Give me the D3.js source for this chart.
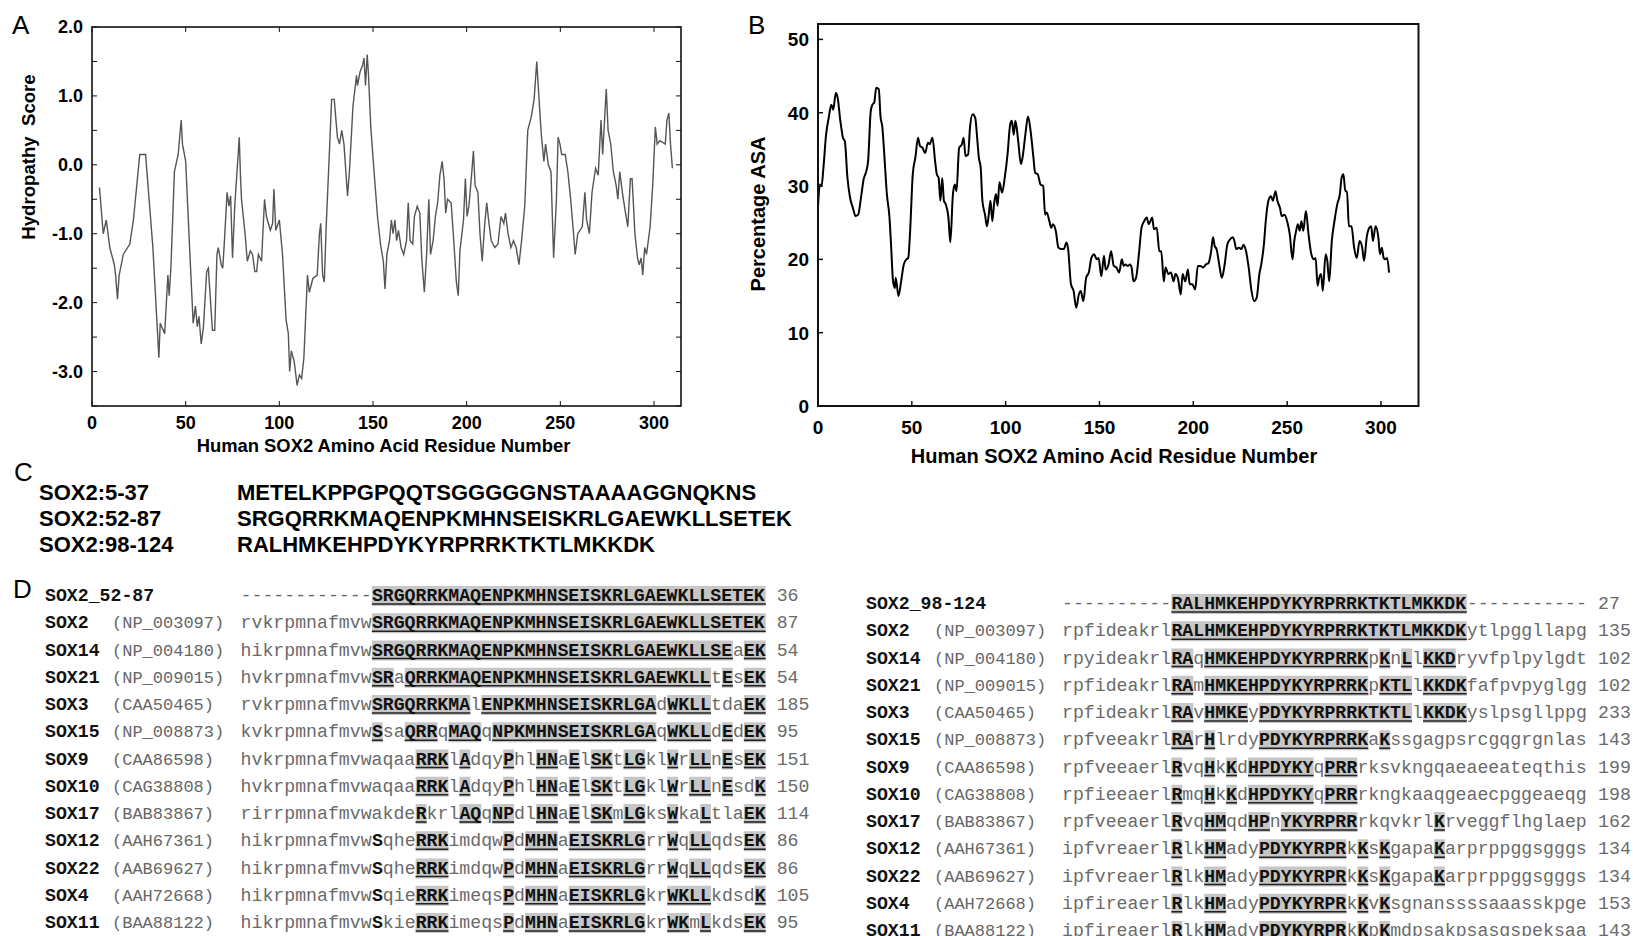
<!DOCTYPE html>
<html>
<head>
<meta charset="utf-8">
<script src="https://cdn.jsdelivr.net/npm/d3@7"></script>
<style>
  body { margin: 0; background: #fff; }
  svg { display: block; }
</style>
</head>
<body>
<svg id="fig" width="1633" height="936"></svg>
<script>
// ---- dados ----
// A: hidropatia [resíduo, escore]
const hydropathy = [
  [4,-0.33],[6,-1.0],[7.6,-0.8],[9.5,-1.2],[11.9,-1.45],[12.6,-1.6],[13.6,-1.95],[14.5,-1.6],[16.7,-1.3],
  [20.2,-1.15],[22.1,-0.8],[25.5,0.15],[28.6,0.15],[32.5,-1.2],[35.7,-2.8],[36.4,-2.3],[38.8,-2.45],
  [40.5,-1.6],[41.2,-1.9],[42.1,-1.5],[44,-0.1],[46,0.15],[47.6,0.65],[48.3,0.3],[50,0.05],[52.1,-1.2],
  [54,-2.3],[55.2,-2.05],[56.2,-2.35],[57.1,-2.2],[58.3,-2.6],[59.5,-2.35],[61.2,-1.55],[62.1,-1.5],
  [64.3,-2.4],[65.5,-2.4],[66.7,-1.3],[67.4,-1.2],[69,-1.45],[69.8,-1.5],[70.7,-1.1],[72.1,-0.4],
  [73.1,-0.6],[74,-0.45],[75,-1.35],[76.2,-0.6],[78.6,0.4],[79.3,-0.2],[79.8,-0.5],[81.7,-1.0],
  [82.9,-1.4],[84.5,-1.25],[85.7,-1.3],[86.9,-1.55],[87.9,-1.55],[88.8,-1.3],[90.5,-1.4],[91.2,-1.0],
  [92.1,-0.5],[93.1,-0.75],[95.2,-0.95],[96.4,-0.85],[97.1,-0.35],[98.1,-0.95],[100,-0.8],[101.7,-1.3],
  [103.6,-2.25],[104.8,-2.45],[105.5,-3.0],[106.4,-2.7],[107.9,-2.85],[109.5,-3.2],[110.7,-3.05],
  [111.9,-3.1],[113.1,-2.8],[115,-1.6],[116,-1.85],[117.9,-1.65],[120.2,-1.6],[121.4,-1.0],[122.1,-0.85],
  [123.1,-1.6],[124,-1.7],[125,-0.9],[126.9,0.3],[127.9,0.95],[129.3,0.95],[131,0.4],[132.1,0.3],
  [133.3,0.5],[134.5,0.3],[136.4,-0.45],[137.4,-0.1],[139.3,0.85],[141.2,1.3],[141.7,1.15],[143.1,1.35],
  [144.5,1.45],[145.2,1.55],[146,1.15],[146.9,1.6],[147.6,1.3],[148.8,0.55],[150.7,-0.15],[152.4,-0.75],
  [154,-1.15],[155.5,-1.4],[156.4,-1.8],[157.4,-1.3],[158.8,-1.1],[159.8,-0.8],[160.7,-1.0],[161.7,-0.8],
  [162.6,-1.1],[163.6,-0.95],[165,-1.2],[166.4,-1.3],[167.9,-1.1],[168.8,-0.55],[169.8,-1.1],[171.2,-1.15],
  [172.1,-0.75],[173.6,-0.6],[175,-0.7],[176,-1.35],[177.4,-1.85],[178.6,-1.3],[179.8,-0.5],[180.7,-1.3],
  [182.1,-1.1],[183.3,-0.75],[184.5,-0.55],[185.7,-0.15],[186.9,0.05],[187.9,-0.2],[188.8,-0.7],
  [189.8,-0.5],[191.7,-0.55],[193.1,-1.1],[194.5,-1.7],[195.5,-1.9],[196.4,-1.25],[198.3,-0.8],
  [199.3,-0.2],[200.2,-0.75],[201.2,-0.6],[202.6,-0.15],[203.6,0.2],[204.5,-0.3],[206,-0.4],[207.1,-1.0],
  [208.3,-1.4],[209.5,-0.9],[210.7,-0.55],[211.9,-0.85],[213.1,-1.1],[215,-1.2],[216.7,-1.15],
  [218.3,-0.75],[219.8,-0.85],[220.7,-0.7],[222.1,-1.0],[223.6,-1.2],[225,-1.1],[226.4,-1.2],
  [227.9,-1.45],[229.3,-1.1],[231,-0.6],[232.6,0.5],[234.5,0.7],[236,0.95],[237.4,1.5],[238.3,1.1],
  [239.8,0.45],[241.2,0.05],[242.1,0.3],[243.6,0.0],[245,-0.1],[246.4,-1.35],[247.9,-0.5],[248.8,0.4],
  [249.8,0.3],[250.7,0.15],[252.6,0.15],[254,-0.1],[255.5,-0.5],[256.9,-0.95],[257.9,-1.3],[259.3,-1.0],
  [261.7,-0.9],[263.1,-0.4],[264,-0.8],[265.5,-1.0],[266.9,-0.4],[268.8,-0.05],[270.2,-0.15],[271.7,0.65],
  [272.6,0.15],[273.6,0.65],[274.5,1.1],[275.5,0.5],[276.9,0.3],[278.3,-0.1],[279.8,-0.3],[280.7,-0.5],
  [281.7,-0.1],[283.1,-0.4],[284.5,-0.65],[286,-0.9],[287.4,-0.2],[288.3,-0.2],[289.8,-1.0],[291.2,-1.35],
  [292.1,-1.45],[293.1,-1.35],[294,-1.6],[295,-1.2],[296,-1.3],[297.9,-0.9],[299.3,-0.3],[300.7,0.55],
  [301.7,0.3],[303.1,0.35],[306,0.3],[306.9,0.65],[307.9,0.75],[308.8,0.3],[309.8,-0.05]
];

// B: percentual ASA [resíduo, %]
const asa = [
  [0,27.1],[1,30.2],[1.9,30.0],[2.9,32.5],[4.3,37.0],[5.7,39.3],[7.1,41.1],[8.1,40.4],[9.5,42.7],[10.5,42.0],
  [11.9,38.9],[13.3,36.6],[14.3,36.1],[15.7,31.1],[17.1,28.4],[18.6,27.0],[20,25.9],[21.4,26.1],[22.9,28.4],
  [24.3,30.9],[25.7,32.0],[26.7,33.4],[28.1,40.2],[29,41.1],[30,41.4],[31,43.4],[32.4,43.2],[33.3,39.5],
  [34.3,38.0],[35.2,34.8],[36.7,28.9],[38.1,25.7],[39,21.6],[40,17.0],[41,16.1],[41.4,17.5],[42.9,15.0],
  [44.3,17.0],[45.7,19.3],[47.1,20.0],[48.1,20.2],[49,23.4],[50.5,31.6],[51.9,33.9],[53.3,36.6],[54.3,35.5],
  [55.7,35.2],[57.1,34.5],[58.6,35.9],[59.5,35.7],[61,36.6],[62.4,33.4],[63.3,31.6],[64.3,31.1],[65.2,28.0],
  [66.2,31.1],[67.1,28.0],[68.1,27.5],[69.5,25.7],[70.5,22.3],[71.9,28.9],[72.9,30.2],[73.8,29.3],[75.2,35.2],
  [76.7,35.7],[77.6,36.6],[78.6,34.1],[80,34.3],[81,38.0],[82.4,39.8],[83.8,39.3],[84.8,36.6],[85.7,33.9],
  [86.7,32.5],[87.6,28.0],[89,26.1],[90,24.5],[91,26.1],[91.9,28.0],[92.9,25.2],[93.8,27.5],[94.8,28.9],
  [95.7,27.3],[96.7,30.5],[98.1,29.1],[99.5,31.1],[101,34.3],[102.4,38.4],[103.3,38.9],[104.3,37.0],
  [105.2,38.9],[106.7,36.1],[108.1,33.0],[109,33.9],[110.5,37.0],[111.9,39.5],[113.3,37.5],[114.8,33.9],
  [115.7,31.8],[117.1,31.6],[118.6,30.2],[120,30.0],[121,26.1],[121.9,26.4],[123.3,25.2],[124.3,24.3],
  [125.2,24.8],[126.7,23.9],[128.1,21.6],[129.5,21.4],[131,21.4],[132.4,22.3],[133.3,21.4],[134.8,16.6],
  [136.2,15.7],[137.6,13.4],[139,15.2],[140,15.7],[141.4,14.3],[142.9,17.5],[144.3,18.2],[145.7,20.2],
  [147.1,20.7],[148.6,20.0],[149.5,20.2],[151,17.7],[152.4,20.5],[153.3,18.6],[154.8,19.3],[156.2,21.1],
  [157.6,19.1],[159,18.9],[160.5,18.2],[161.9,20.0],[162.9,19.1],[163.8,19.3],[165.2,19.1],[166.2,19.3],
  [167.1,18.9],[168.1,17.0],[169.5,17.5],[171,20.7],[172.4,24.3],[173.8,25.2],[175.2,25.7],[176.2,24.8],
  [177.1,25.2],[178.1,25.7],[179,24.1],[180.5,24.3],[181.9,21.1],[182.9,21.1],[184.3,17.0],[185.2,18.9],
  [186.7,18.0],[188.1,18.2],[189.5,17.0],[190.5,18.0],[191.9,17.3],[193.3,15.2],[194.3,18.0],[195.7,17.0],
  [197.1,18.6],[198.1,16.6],[199.5,16.6],[201,15.9],[202.4,19.1],[203.8,19.1],[205.2,18.9],[206.7,19.3],
  [208.1,19.5],[209.5,21.1],[210.5,23.0],[211.4,21.8],[212.4,21.4],[213.8,19.3],[215.2,17.5],[216.7,19.3],
  [218.1,22.0],[219.5,22.7],[221,23.0],[221.9,22.5],[222.9,21.4],[224.3,21.6],[225.7,21.4],[226.7,22.0],
  [228.1,21.1],[229.5,18.9],[231,15.7],[232.4,14.3],[233.8,14.8],[235.2,18.0],[236.2,19.3],[237.6,22.0],
  [238.6,25.2],[240,28.0],[241.4,28.6],[242.4,28.0],[243.8,29.3],[244.8,28.0],[246.2,27.0],[247.1,25.9],
  [248.6,26.1],[250,25.2],[251.4,23.4],[252.9,20.0],[253.8,22.5],[254.8,23.9],[255.7,24.8],[256.7,23.9],
  [257.6,25.2],[258.6,23.9],[260,26.6],[261.4,23.4],[262.9,20.7],[264.3,20.0],[265.2,20.2],[266.2,16.4],
  [267.1,17.5],[268.1,18.0],[269,15.7],[270.5,20.7],[271.4,19.8],[272.4,17.0],[273.8,22.5],[275.2,25.2],
  [276.7,27.5],[278.1,28.9],[279,31.1],[280,31.6],[281,29.3],[281.9,29.3],[282.9,24.5],[284.3,24.5],
  [285.7,21.6],[287.1,20.2],[288.6,22.5],[290,21.6],[291,19.8],[292.4,23.0],[293.8,24.3],[294.8,24.5],
  [295.7,22.5],[297.1,24.5],[298.6,23.0],[299.5,20.7],[300.5,21.6],[301.4,20.2],[302.4,20.0],[303.3,20.2],
  [304.3,18.2]
];

const ticksResiduo = [0, 50, 100, 150, 200, 250, 300];
const ticksHidro = [-3, -2, -1, 0, 1, 2];
const ticksHidroMenor = [-3.5, -3, -2.5, -2, -1.5, -1, -0.5, 0, 0.5, 1, 1.5, 2];
const ticksAsa = [0, 10, 20, 30, 40, 50];

// C: peptídeos
const peptideoNomes = ["SOX2:5-37", "SOX2:52-87", "SOX2:98-124"];
const peptideoSeqs = [
  "METELKPPGPQQTSGGGGGNSTAAAAGGNQKNS",
  "SRGQRRKMAQENPKMHNSEISKRLGAEWKLLSETEK",
  "RALHMKEHPDYKYRPRRKTKTLMKKDK"
];

// D: alinhamentos (maiúsculas = conservado/destacado, '*' = negrito sem destaque)
const alinEsqNomes = ["SOX2_52-87","SOX2","SOX14","SOX21","SOX3","SOX15","SOX9","SOX10","SOX17","SOX12","SOX22","SOX4","SOX11"];
const alinEsqAcc = ["","(NP_003097)","(NP_004180)","(NP_009015)","(CAA50465)","(NP_008873)","(CAA86598)","(CAG38808)","(BAB83867)","(AAH67361)","(AAB69627)","(AAH72668)","(BAA88122)"];
const alinEsqSeqs = [
  "------------SRGQRRKMAQENPKMHNSEISKRLGAEWKLLSETEK",
  "rvkrpmnafmvwSRGQRRKMAQENPKMHNSEISKRLGAEWKLLSETEK",
  "hikrpmnafmvwSRGQRRKMAQENPKMHNSEISKRLGAEWKLLSEaEK",
  "hvkrpmnafmvwSRaQRRKMAQENPKMHNSEISKRLGAEWKLLtEsEK",
  "rvkrpmnafmvwSRGQRRKMAlENPKMHNSEISKRLGAdWKLLtdaEK",
  "kvkrpmnafmvwSsaQRRqMAQqNPKMHNSEISKRLGAqWKLLdEdEK",
  "hvkrpmnafmvwaqaaRRKlAdqyPhlHNaElSKtLGklWrLLnEsEK",
  "hvkrpmnafmvwaqaaRRKlAdqyPhlHNaElSKtLGklWrLLnEsdK",
  "rirrpmnafmvwakdeRkrlAQqNPdlHNaElSKmLGksWkaLtlaEK",
  "hikrpmnafmvw*SqheRRKimdqwPdMHNaEISKRLGrrWqLLqdsEK",
  "hikrpmnafmvw*SqheRRKimdqwPdMHNaEISKRLGrrWqLLqdsEK",
  "hikrpmnafmvw*SqieRRKimeqsPdMHNaEISKRLGkrWKLLkdsdK",
  "hikrpmnafmvw*SkieRRKimeqsPdMHNaEISKRLGkrWKmLkdsEK"
];
const alinEsqFim = [36, 87, 54, 54, 185, 95, 151, 150, 114, 86, 86, 105, 95];

const alinDirNomes = ["SOX2_98-124","SOX2","SOX14","SOX21","SOX3","SOX15","SOX9","SOX10","SOX17","SOX12","SOX22","SOX4","SOX11"];
const alinDirAcc = alinEsqAcc;
const alinDirSeqs = [
  "----------RALHMKEHPDYKYRPRRKTKTLMKKDK-----------",
  "rpfideakrlRALHMKEHPDYKYRPRRKTKTLMKKDKytlpggllapg",
  "rpyideakrlRAqHMKEHPDYKYRPRRKpKnLlKKDryvfplpylgdt",
  "rpfideakrlRAmHMKEHPDYKYRPRRKpKTLlKKDKfafpvpyglgg",
  "rpfideakrlRAvHMKEyPDYKYRPRRKTKTLlKKDKyslpsgllppg",
  "rpfveeakrlRArHlrdyPDYKYRPRRKaKssgagpsrcgqgrgnlas",
  "rpfveeaerlRvqHkKdHPDYKYqPRRrksvkngqaeaeeateqthis",
  "rpfieeaerlRmqHkKdHPDYKYqPRRrkngkaaqgeaecpggeaeqg",
  "rpfveeaerlRvqHMqdHPnYKYRPRRrkqvkrlKrveggflhglaep",
  "ipfvreaerlRlkHMadyPDYKYRPRkKsKgapaKarprppggsgggs",
  "ipfvreaerlRlkHMadyPDYKYRPRkKsKgapaKarprppggsgggs",
  "ipfireaerlRlkHMadyPDYKYRPRkKvKsgnanssssaaasskpge",
  "ipfireaerlRlkHMadyPDYKYRPRkKpKmdpsakpsasgspeksaa"
];
const alinDirFim = [27, 135, 102, 102, 233, 143, 199, 198, 162, 134, 134, 153, 143];

// ---- desenho ----
var svg = d3.select("#fig");
var sans = "'Liberation Sans', Arial, sans-serif";
var mono = "'Liberation Mono', 'Courier New', monospace";

function letra(txt, x, y) {
    svg.append("text").attr("x", x).attr("y", y)
        .style("font-family", sans).style("font-size", "26px").text(txt);
}

// painel A
function desenharHidro() {
    var L = 92, R = 681, T = 27, B = 406;
    var x = d3.scaleLinear().domain([0, 314.4]).range([L, R]);
    var y = d3.scaleLinear().domain([-3.5, 2.0]).range([B, T]);
    var g = svg.append("g");

    g.append("path")
        .datum(hydropathy)
        .attr("fill", "none")
        .attr("stroke", "#555")
        .attr("stroke-width", 1.4)
        .attr("d", d3.line().x(d => x(d[0])).y(d => y(d[1])));

    g.append("rect").attr("x", L).attr("y", T).attr("width", R - L).attr("height", B - T)
        .attr("fill", "none").attr("stroke", "#111").attr("stroke-width", 1.6);

    // ticks internos nos quatro lados
    ticksHidroMenor.forEach(function (v) {
        g.append("line").attr("x1", L).attr("x2", L + 5).attr("y1", y(v)).attr("y2", y(v)).attr("stroke", "#111");
        g.append("line").attr("x1", R).attr("x2", R - 5).attr("y1", y(v)).attr("y2", y(v)).attr("stroke", "#111");
    });
    ticksResiduo.forEach(function (v) {
        g.append("line").attr("x1", x(v)).attr("x2", x(v)).attr("y1", B).attr("y2", B - 5).attr("stroke", "#111");
        g.append("line").attr("x1", x(v)).attr("x2", x(v)).attr("y1", T).attr("y2", T + 5).attr("stroke", "#111");
    });

    // hífen comum no sinal, como no original
    g.selectAll("text.ty").data(ticksHidro).enter().append("text")
        .attr("x", L - 9).attr("y", d => y(d) + 6)
        .attr("text-anchor", "end")
        .style("font-family", sans).style("font-weight", "bold").style("font-size", "18px")
        .text(d => d.toFixed(1));

    g.selectAll("text.tx").data(ticksResiduo).enter().append("text")
        .attr("x", d => x(d)).attr("y", B + 23)
        .attr("text-anchor", "middle")
        .style("font-family", sans).style("font-weight", "bold").style("font-size", "18px")
        .text(d => d);

    g.append("text").attr("x", (L + R) / 2 - 3).attr("y", 452).attr("text-anchor", "middle")
        .style("font-family", sans).style("font-weight", "bold").style("font-size", "18.4px")
        .text("Human SOX2 Amino Acid Residue Number");

    g.append("text")
        .attr("transform", "translate(35,157) rotate(-90)")
        .attr("text-anchor", "middle")
        .attr("xml:space", "preserve")
        .style("white-space", "pre")
        .style("font-family", sans).style("font-weight", "bold").style("font-size", "18.6px")
        .text("Hydropathy  Score");
}

// painel B
function desenharAsa() {
    var L = 818, R = 1418.5, T = 24, B = 406;
    var x = d3.scaleLinear().domain([0, 320]).range([L, R]);
    var y = d3.scaleLinear().domain([0, 52.1]).range([B, T]);
    var g = svg.append("g");

    g.append("path")
        .datum(asa)
        .attr("fill", "none")
        .attr("stroke", "#000")
        .attr("stroke-width", 2)
        .attr("d", d3.line().curve(d3.curveMonotoneX).x(d => x(d[0])).y(d => y(d[1])));

    g.append("rect").attr("x", L).attr("y", T).attr("width", R - L).attr("height", B - T)
        .attr("fill", "none").attr("stroke", "#111").attr("stroke-width", 2);

    ticksAsa.forEach(function (v) {
        g.append("line").attr("x1", L).attr("x2", L + 5).attr("y1", y(v)).attr("y2", y(v)).attr("stroke", "#111").attr("stroke-width", 1.5);
    });
    ticksResiduo.forEach(function (v) {
        g.append("line").attr("x1", x(v)).attr("x2", x(v)).attr("y1", B).attr("y2", B - 5).attr("stroke", "#111").attr("stroke-width", 1.5);
    });

    g.selectAll("text.ty").data(ticksAsa).enter().append("text")
        .attr("x", L - 9).attr("y", d => y(d) + 7)
        .attr("text-anchor", "end")
        .style("font-family", sans).style("font-weight", "bold").style("font-size", "19px")
        .text(d => d);

    g.selectAll("text.tx").data(ticksResiduo).enter().append("text")
        .attr("x", d => x(d)).attr("y", B + 28)
        .attr("text-anchor", "middle")
        .style("font-family", sans).style("font-weight", "bold").style("font-size", "19px")
        .text(d => d);

    g.append("text").attr("x", 1114).attr("y", 463).attr("text-anchor", "middle")
        .style("font-family", sans).style("font-weight", "bold").style("font-size", "20px")
        .text("Human SOX2 Amino Acid Residue Number");

    g.append("text")
        .attr("transform", "translate(765,214) rotate(-90)")
        .attr("text-anchor", "middle")
        .style("font-family", sans).style("font-weight", "bold").style("font-size", "20px")
        .text("Percentage ASA");
}

// painel C
function desenharPeptideos() {
    var base = [500, 526, 552];
    peptideoNomes.forEach(function (nome, i) {
        svg.append("text").attr("x", 39).attr("y", base[i])
            .style("font-family", sans).style("font-weight", "bold").style("font-size", "22px")
            .text(nome);
        svg.append("text").attr("x", 237).attr("y", base[i])
            .style("font-family", sans).style("font-weight", "bold").style("font-size", "22px")
            .text(peptideoSeqs[i]);
    });
}

// quebra a sequência em trechos: destacado (maiúsculas), negrito simples (*X) e minúsculas
function trechos(seq) {
    var out = [], pos = 0, i = 0;
    while (i < seq.length) {
        var c = seq[i];
        if (c === "*") {
            out.push({ t: seq[i + 1], tipo: "bold", ini: pos });
            pos += 1; i += 2; continue;
        }
        var up = c >= "A" && c <= "Z";
        var j = i;
        while (j < seq.length && seq[j] !== "*" && ((seq[j] >= "A" && seq[j] <= "Z") === up)) j++;
        out.push({ t: seq.slice(i, j), tipo: up ? "hl" : "low", ini: pos });
        pos += j - i; i = j;
    }
    return out;
}

function desenharAlinhamento(nomes, accs, seqs, fins, xNome, xAcc, xSeq, y0) {
    var cw = 10.94, passo = 27.25;
    var g = svg.append("g");
    nomes.forEach(function (nome, r) {
        var yb = y0 + r * passo;
        g.append("text").attr("x", xNome).attr("y", yb)
            .style("font-family", mono).style("font-weight", "bold").style("font-size", "18.2px")
            .attr("fill", "#111").text(nome);
        g.append("text").attr("x", xAcc).attr("y", yb)
            .style("font-family", mono).style("font-size", "17px")
            .attr("fill", "#666").text(accs[r]);

        var partes = trechos(seqs[r]);
        var total = 0;
        partes.forEach(function (p) {
            var x0 = xSeq + p.ini * cw;
            if (p.tipo === "hl") {
                g.append("rect").attr("x", x0).attr("y", yb - 15).attr("width", p.t.length * cw).attr("height", 20)
                    .attr("fill", "#c6c6c6");
                g.append("line").attr("x1", x0).attr("x2", x0 + p.t.length * cw)
                    .attr("y1", yb + 3).attr("y2", yb + 3)
                    .attr("stroke", "#222").attr("stroke-width", 1.6);
            }
            total = p.ini + p.t.length;
        });
        partes.forEach(function (p) {
            var x0 = xSeq + p.ini * cw;
            g.append("text").attr("x", x0).attr("y", yb)
                .attr("xml:space", "preserve")
                .style("font-family", mono).style("font-size", "18.2px")
                .style("font-weight", p.tipo === "low" ? "normal" : "bold")
                .attr("fill", p.tipo === "low" ? "#6a6a6a" : "#111")
                .text(p.t);
        });
        g.append("text").attr("x", xSeq + (total + 1) * cw).attr("y", yb)
            .style("font-family", mono).style("font-size", "18.2px")
            .attr("fill", "#6a6a6a").text(fins[r]);
    });
}

letra("A", 12, 34);
letra("B", 748, 34);
letra("C", 14, 481);
letra("D", 13, 598);

desenharHidro();
desenharAsa();
desenharPeptideos();
desenharAlinhamento(alinEsqNomes, alinEsqAcc, alinEsqSeqs, alinEsqFim, 45, 112, 240.6, 601);
desenharAlinhamento(alinDirNomes, alinDirAcc, alinDirSeqs, alinDirFim, 866, 934, 1062, 609);
</script>
</body>
</html>
